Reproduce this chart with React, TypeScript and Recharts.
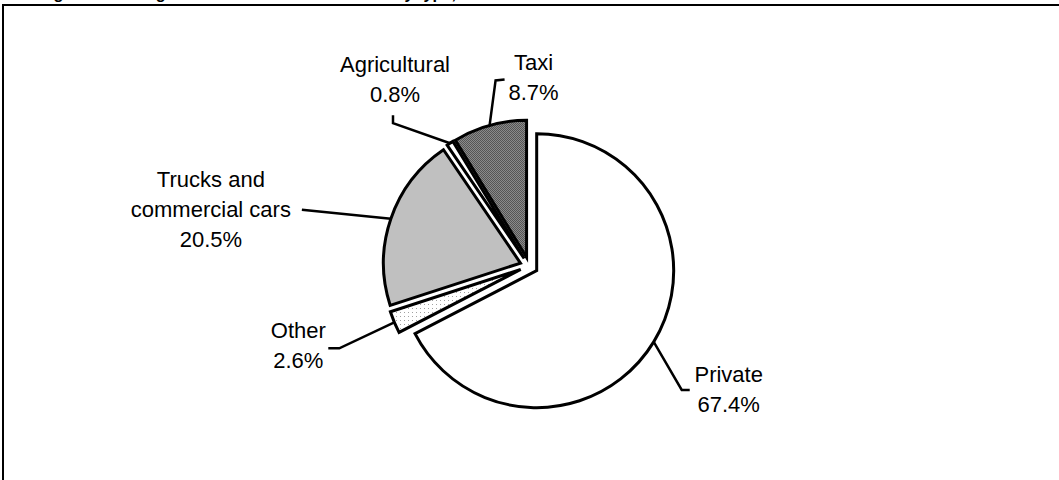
import React from "react";
import { Cell, Pie, PieChart } from "recharts";

const categories = ["Private", "Other", "Trucks and\ncommercial cars", "Agricultural", "Taxi"];
const shares = [67.4, 2.6, 20.5, 0.8, 8.7];
const title = "Figure 2.10: Registered motor vehicles in use by type, 2010";

const data = categories.map((name, i) => ({ name, value: shares[i] }));

const W = 1059;
const H = 480;
const CX = 529;
const CY = 266;
const R = 137;
const EXPLODE = 9;
const RAD = Math.PI / 180;
const FONT = "Arial, 'Liberation Sans', sans-serif";

const fills = ["#ffffff", "url(#dots)", "#c0c0c0", "#ffffff", "url(#grain)"];

// labels were placed by hand in the original, so keep them relative to
// the point where each leader line touches its slice
const labelLayout = [
  { text: [75, 40], line: [[28, 48], [36, 48]] },
  { text: [-96, 16], line: [[-55, 26], [-66, 26]] },
  { text: [-180, -32], line: [[-89, -9]] },
  { text: [-55, -71], line: [[-57, -20], [-57, -28]] },
  { text: [44, -55], line: [[6, -45], [15, -46]] },
];

const total = shares.reduce((a, b) => a + b, 0);
const midAngles = shares.map((v, i) => {
  const before = shares.slice(0, i).reduce((a, b) => a + b, 0);
  return 90 - (360 * (before + v / 2)) / total;
});

const renderLabel = (slice: number) => (props: any) => {
  if (props.index !== slice) return null;
  const { cx, cy, midAngle, outerRadius } = props;
  const ex = cx + outerRadius * Math.cos(midAngle * RAD);
  const ey = cy - outerRadius * Math.sin(midAngle * RAD);
  const layout = labelLayout[slice];
  const pts = [[ex, ey], ...layout.line.map(([dx, dy]) => [ex + dx, ey + dy])];
  const lines = [...categories[slice].split("\n"), `${shares[slice].toFixed(1)}%`];
  const tx = ex + layout.text[0];
  const ty = ey + layout.text[1];
  return (
    <g>
      <polyline
        points={pts.map((p) => p.join(",")).join(" ")}
        fill="none"
        stroke="#000"
        strokeWidth={2.5}
      />
      <text x={tx} y={ty} textAnchor="middle" fontFamily={FONT} fontSize={22} fill="#000">
        {lines.map((l, k) => (
          <tspan key={k} x={tx} dy={k === 0 ? 0 : 30}>
            {l}
          </tspan>
        ))}
      </text>
    </g>
  );
};

export default function App() {
  return (
    <div style={{ position: "absolute", left: 0, top: 0, width: W, height: H, overflow: "hidden", background: "#fff" }}>
      <svg width={W} height={H} style={{ position: "absolute", left: 0, top: 0 }}>
        <defs>
          <pattern id="dots" width={4} height={4} patternUnits="userSpaceOnUse">
            <rect width={4} height={4} fill="#ffffff" />
            <rect width={1} height={1} fill="#a0a0a0" />
          </pattern>
          <pattern id="grain" width={2} height={2} patternUnits="userSpaceOnUse">
            <rect width={2} height={2} fill="#8a8a8a" />
            <rect width={1} height={1} fill="#555555" />
            <rect x={1} y={1} width={1} height={1} fill="#555555" />
          </pattern>
        </defs>
        <rect x={3} y={5} width={1200} height={700} fill="none" stroke="#000" strokeWidth={2} />
        {/* the title sits above the frame and is cropped, as in the source picture */}
        <text x={39} y={-1.5} fontFamily={FONT} fontWeight="bold" fontSize={16.3} fill="#000">
          {title}
        </text>
      </svg>
      <div style={{ position: "absolute", left: 0, top: 0 }}>
        <PieChart width={W} height={H} margin={{ top: 0, right: 0, bottom: 0, left: 0 }}>
          {midAngles.map((a, slice) => (
            <Pie
              key={slice}
              data={data}
              dataKey="value"
              nameKey="name"
              cx={CX + EXPLODE * Math.cos(a * RAD)}
              cy={CY - EXPLODE * Math.sin(a * RAD)}
              outerRadius={R}
              innerRadius={0}
              startAngle={90}
              endAngle={-270}
              paddingAngle={0}
              label={renderLabel(slice)}
              labelLine={false}
              isAnimationActive={false}
            >
              {data.map((d, j) => (
                <Cell
                  key={d.name}
                  fill={j === slice ? fills[j] : "none"}
                  stroke={j === slice ? "#000" : "none"}
                  strokeWidth={3}
                />
              ))}
            </Pie>
          ))}
        </PieChart>
      </div>
    </div>
  );
}
